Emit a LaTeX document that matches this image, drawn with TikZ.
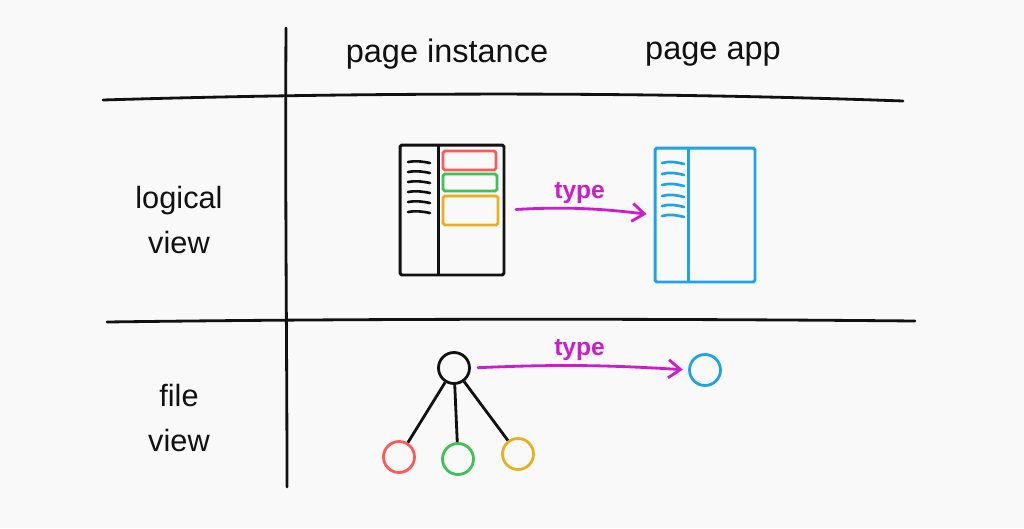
\documentclass[tikz,border=0pt]{standalone}
\usepackage{fontspec}
\setmainfont{Liberation Sans}
\usetikzlibrary{arrows.meta}
\definecolor{paper}{HTML}{F9F9F9}
\definecolor{ink}{HTML}{111111}
\definecolor{kred}{HTML}{FA5A5A}
\definecolor{kgreen}{HTML}{40C057}
\definecolor{kyellow}{HTML}{E8B020}
\definecolor{kblue}{HTML}{1FA3E4}
\definecolor{kmagenta}{HTML}{C91EC9}
\tikzset{
  rule/.style={draw=ink, line width=1.6pt, line cap=round},
  header/.style={font=\fontsize{18.5}{22}\selectfont, text=ink},
  rowlabel/.style={align=center, font=\fontsize{17.5}{26}\selectfont, text=ink},
  page/.style={draw=ink, line width=1.7pt, rounded corners=1pt, inner sep=0pt},
  slot/.style={draw, line width=1.6pt, rounded corners=1pt, inner sep=0pt},
  squiggle/.style={line width=1.5pt, line cap=round},
  dot/.style={circle, draw, line width=1.6pt, minimum size=0.62cm, inner sep=0pt},
  flow/.style={-{Straight Barb[length=2.4mm, width=3.6mm]}, draw=kmagenta, line width=1.6pt, line cap=round},
  tag/.style={font=\bfseries\fontsize{14}{16}\selectfont, text=kmagenta, inner sep=2pt},
}
\begin{document}
\begin{tikzpicture}[x=0.02cm, y=-0.02cm]
  \useasboundingbox[fill=paper] (0,0) rectangle (1024,528);
  % table rules
  \draw[rule] (286,28) .. controls (285,200) and (287,350) .. (287,487);
  \draw[rule] (103,100) .. controls (300,94) and (600,90) .. (903,101);
  \draw[rule] (107,322) .. controls (400,318) and (700,319) .. (915,321);
  % headers and row labels
  \node[header] (hinst) at (447,54) {page instance};
  \node[header] (happ) at (713,54) {page app};
  \node[rowlabel] (hlogic) at (179,220) {logical\\view};
  \node[rowlabel] (hfile) at (179,418) {file\\view};
  % logical view
  \node[page, minimum width=2.08cm, minimum height=2.6cm] (inst) at (452,210) {};
  \draw[ink, line width=1.7pt] ([xshift=0.8cm]inst.north west) -- ([xshift=0.8cm]inst.south west);
  \foreach \y in {162,172,182,192,202,212}
    \draw[squiggle, ink] (408,\y) .. controls (415,\y-1.5) and (423,\y-0.5) .. (430,\y+1);
  \node[slot, draw=kred, minimum width=1.06cm, minimum height=0.38cm] (slotA) at (469.5,160.5) {};
  \node[slot, draw=kgreen, minimum width=1.08cm, minimum height=0.34cm] (slotB) at (470,182.5) {};
  \node[slot, draw=kyellow, minimum width=1.1cm, minimum height=0.58cm] (slotC) at (470.5,210.5) {};
  \node[page, draw=kblue, minimum width=2.0cm, minimum height=2.68cm] (app) at (705,215) {};
  \draw[kblue, line width=1.7pt] ([xshift=0.7cm]app.north west) -- ([xshift=0.7cm]app.south west);
  \foreach \y in {163,174,185,196,206,216}
    \draw[squiggle, kblue] (662,\y) .. controls (669,\y-2) and (677,\y-1) .. (684,\y+1);
  \draw[flow, shorten <=6pt, shorten >=4pt] (inst.east) to[bend left=5] node[tag, midway, above] {type} (app.west);
  % file view
  \node[dot, draw=ink] (root) at (454,368) {};
  \node[dot, draw=kred] (leafA) at (399,457) {};
  \node[dot, draw=kgreen] (leafB) at (458,459) {};
  \node[dot, draw=kyellow] (leafC) at (518,454) {};
  \node[dot, draw=kblue] (appdot) at (705,370) {};
  \draw[ink, line width=1.6pt] (root) -- (leafA);
  \draw[ink, line width=1.6pt] (root) -- (leafB);
  \draw[ink, line width=1.6pt] (root) -- (leafC);
  \draw[flow, shorten <=4pt, shorten >=3pt] (root.east) to[bend left=3] node[tag, midway, above] {type} (appdot.west);
\end{tikzpicture}
\end{document}
